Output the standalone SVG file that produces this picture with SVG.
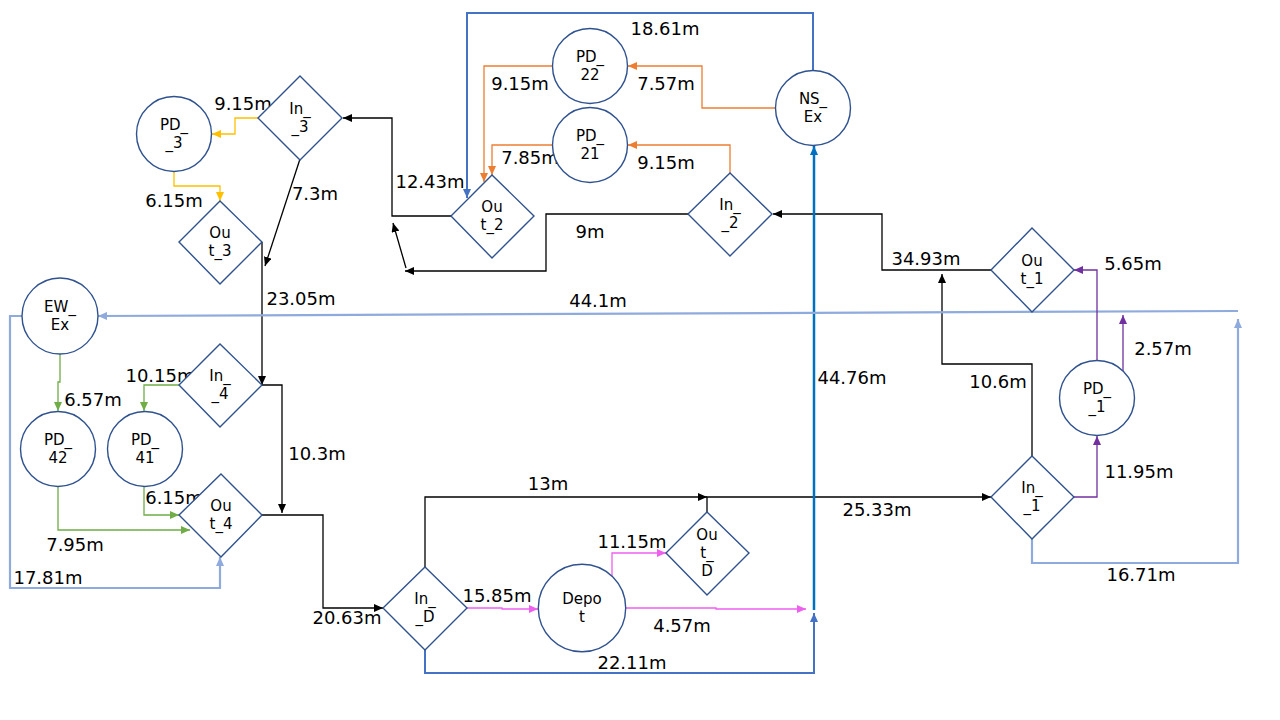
<svg xmlns="http://www.w3.org/2000/svg" width="1280" height="720" viewBox="0 0 1280 720">
<style>
.n{fill:#fff;stroke:#2F528F;stroke-width:1.4}
.nt{font-family:"DejaVu Sans",sans-serif;font-size:15px;fill:#000;text-anchor:middle;dominant-baseline:central}
.l{font-family:"DejaVu Sans",sans-serif;font-size:18px;fill:#000;text-anchor:middle;dominant-baseline:central}
.c{fill:none;stroke-width:1.3}
.k{stroke:#000;marker-end:url(#ak)}
.y{stroke:#FFC000;marker-end:url(#ay)}
.o{stroke:#ED7D31;marker-end:url(#ao)}
.g{stroke:#70AD47;marker-end:url(#ag)}
.p{stroke:#7030A0;marker-end:url(#ap)}
.m{stroke:#EE5FEE;marker-end:url(#am)}
.b{stroke:#4472C4;stroke-width:2;marker-end:url(#ab)}
.bb{stroke:#0070C0;stroke-width:2.5;marker-end:url(#abb)}
.lb{stroke:#8FAADC;stroke-width:2.2;marker-end:url(#alb)}
</style>
<defs>
<marker id="ak" markerUnits="userSpaceOnUse" markerWidth="10" markerHeight="8" refX="9" refY="4" orient="auto"><path d="M0,0 L9,4 L0,8 z" fill="#000"/></marker>
<marker id="ay" markerUnits="userSpaceOnUse" markerWidth="10" markerHeight="8" refX="9" refY="4" orient="auto"><path d="M0,0 L9,4 L0,8 z" fill="#FFC000"/></marker>
<marker id="ao" markerUnits="userSpaceOnUse" markerWidth="10" markerHeight="8" refX="9" refY="4" orient="auto"><path d="M0,0 L9,4 L0,8 z" fill="#ED7D31"/></marker>
<marker id="ag" markerUnits="userSpaceOnUse" markerWidth="10" markerHeight="8" refX="9" refY="4" orient="auto"><path d="M0,0 L9,4 L0,8 z" fill="#70AD47"/></marker>
<marker id="ap" markerUnits="userSpaceOnUse" markerWidth="10" markerHeight="8" refX="9" refY="4" orient="auto"><path d="M0,0 L9,4 L0,8 z" fill="#7030A0"/></marker>
<marker id="am" markerUnits="userSpaceOnUse" markerWidth="10" markerHeight="8" refX="9" refY="4" orient="auto"><path d="M0,0 L9,4 L0,8 z" fill="#EE5FEE"/></marker>
<marker id="ab" markerUnits="userSpaceOnUse" markerWidth="10" markerHeight="8" refX="9" refY="4" orient="auto"><path d="M0,0 L9,4 L0,8 z" fill="#4472C4"/></marker>
<marker id="abb" markerUnits="userSpaceOnUse" markerWidth="10" markerHeight="8" refX="9" refY="4" orient="auto"><path d="M0,0 L9,4 L0,8 z" fill="#0070C0"/></marker>
<marker id="alb" markerUnits="userSpaceOnUse" markerWidth="10" markerHeight="8" refX="9" refY="4" orient="auto"><path d="M0,0 L9,4 L0,8 z" fill="#8FAADC"/></marker>
</defs>
<rect width="1280" height="720" fill="#fff"/>
<g id="connectors">
<!-- black -->
<path class="c k" d="M451,216 L392,216 L392,118 L343,118"/>
<path class="c k" d="M688,214 L546,214 L546,271 L405,271"/>
<path class="c k" d="M406,268 L393,223"/>
<path class="c k" d="M991,270 L882,270 L882,214 L773,214"/>
<path class="c k" d="M1032,456 L1032,364 L942,364 L942,274"/>
<path class="c k" d="M300,159 L265,266"/>
<path class="c k" d="M262,242 L262,385"/>
<path class="c k" d="M262,385 L282,385 L282,513"/>
<path class="c k" d="M262,515 L323,515 L323,608 L383,608"/>
<path class="c k" d="M425,567 L425,497 L707,497"/>
<path class="c k" d="M707,512 L707,497 L991,497"/>
<!-- blue -->
<path class="c b" d="M813,70 L813,13 L467,13 L467,198"/>
<path class="c b" d="M425,649 L425,673 L814,673 L814,613"/>
<path class="c bb" d="M814,610 L814,146"/>
<!-- light blue -->
<path class="c lb" d="M1238,311 L98,316"/>
<path class="c lb" d="M1032,539 L1032,563 L1238,563 L1238,319"/>
<path class="c lb" d="M22,316 L10,316 L10,588 L220,588 L220,557"/>
<!-- green -->
<path class="c g" d="M60,354 L60,382 L58,382 L58,411"/>
<path class="c g" d="M179,385 L144,385 L144,411"/>
<path class="c g" d="M144,487 L144,515 L179,515"/>
<path class="c g" d="M58,487 L58,530 L190,530"/>
<!-- yellow -->
<path class="c y" d="M259,118 L235,118 L235,134 L212,134"/>
<path class="c y" d="M174,172 L174,186 L220,186 L220,201"/>
<!-- orange -->
<path class="c o" d="M775,108 L702,108 L702,66 L628,66"/>
<path class="c o" d="M552,66 L484,66 L484,182"/>
<path class="c o" d="M730,173 L730,145 L628,145"/>
<path class="c o" d="M552,145 L492,145 L492,175"/>
<!-- purple -->
<path class="c p" d="M1074,497 L1097,497 L1097,436"/>
<path class="c p" d="M1097,360 L1097,270 L1074,270"/>
<path class="c p" d="M1123,371 L1123,315"/>
<!-- magenta -->
<path class="c m" d="M467,608 L502,608 L502,609 L538,609"/>
<path class="c m" d="M612,577 L612,553 L666,553"/>
<path class="c m" d="M626,608 L716,608 L716,609 L806,609"/>
</g>
<g id="labels">
<text class="l" x="665" y="28">18.61m</text>
<text class="l" x="520" y="83">9.15m</text>
<text class="l" x="666" y="83">7.57m</text>
<text class="l" x="530" y="157">7.85m</text>
<text class="l" x="666" y="162">9.15m</text>
<text class="l" x="430" y="181">12.43m</text>
<text class="l" x="590" y="231">9m</text>
<text class="l" x="243" y="103">9.15m</text>
<text class="l" x="315" y="193">7.3m</text>
<text class="l" x="174" y="200">6.15m</text>
<text class="l" x="301" y="298">23.05m</text>
<text class="l" x="598" y="300">44.1m</text>
<text class="l" x="926" y="258">34.93m</text>
<text class="l" x="1133" y="263">5.65m</text>
<text class="l" x="1163" y="348">2.57m</text>
<text class="l" x="998" y="381">10.6m</text>
<text class="l" x="852" y="377">44.76m</text>
<text class="l" x="160" y="375">10.15m</text>
<text class="l" x="93" y="399">6.57m</text>
<text class="l" x="317" y="453">10.3m</text>
<text class="l" x="174" y="497">6.15m</text>
<text class="l" x="75" y="544">7.95m</text>
<text class="l" x="48" y="577">17.81m</text>
<text class="l" x="347" y="617">20.63m</text>
<text class="l" x="548" y="483">13m</text>
<text class="l" x="877" y="509">25.33m</text>
<text class="l" x="1139" y="471">11.95m</text>
<text class="l" x="1141" y="574">16.71m</text>
<text class="l" x="632" y="541">11.15m</text>
<text class="l" x="497" y="595">15.85m</text>
<text class="l" x="682" y="625">4.57m</text>
<text class="l" x="632" y="662">22.11m</text>
</g>
<g id="PD_3"><circle class="n" cx="174" cy="134" r="37.5"/><text class="nt" x="174" y="125">PD_</text><text class="nt" x="174" y="143">_3</text></g>
<g id="In_3"><path class="n" d="M300,76 L342,118 L300,160 L258,118 z"/><text class="nt" x="300" y="109">In_</text><text class="nt" x="300" y="127">_3</text></g>
<g id="Out_3"><path class="n" d="M220,201 L262,242 L220,284 L179,242 z"/><text class="nt" x="220" y="233">Ou</text><text class="nt" x="220" y="251">t_3</text></g>
<g id="EW_Ex"><circle class="n" cx="60" cy="316" r="38"/><text class="nt" x="60" y="307">EW_</text><text class="nt" x="60" y="325">Ex</text></g>
<g id="PD_42"><circle class="n" cx="58" cy="449" r="37.5"/><text class="nt" x="58" y="440">PD_</text><text class="nt" x="58" y="458">42</text></g>
<g id="PD_41"><circle class="n" cx="145" cy="449" r="37.5"/><text class="nt" x="145" y="440">PD_</text><text class="nt" x="145" y="458">41</text></g>
<g id="In_4"><path class="n" d="M220,344 L262,385 L220,427 L179,385 z"/><text class="nt" x="220" y="376">In_</text><text class="nt" x="220" y="394">_4</text></g>
<g id="Out_4"><path class="n" d="M221,474 L262,515 L221,557 L179,515 z"/><text class="nt" x="221" y="506">Ou</text><text class="nt" x="221" y="524">t_4</text></g>
<g id="Out_2"><path class="n" d="M492,175 L534,216 L492,258 L451,216 z"/><text class="nt" x="492" y="207">Ou</text><text class="nt" x="492" y="225">t_2</text></g>
<g id="PD_22"><circle class="n" cx="590" cy="66" r="37.5"/><text class="nt" x="590" y="57">PD_</text><text class="nt" x="590" y="75">22</text></g>
<g id="PD_21"><circle class="n" cx="590" cy="145" r="37.5"/><text class="nt" x="590" y="136">PD_</text><text class="nt" x="590" y="154">21</text></g>
<g id="NS_Ex"><circle class="n" cx="813" cy="108" r="37.5"/><text class="nt" x="813" y="99">NS_</text><text class="nt" x="813" y="117">Ex</text></g>
<g id="In_2"><path class="n" d="M730,173 L772,214 L730,256 L688,214 z"/><text class="nt" x="730" y="205">In_</text><text class="nt" x="730" y="223">_2</text></g>
<g id="Out_1"><path class="n" d="M1032,228 L1074,270 L1032,312 L991,270 z"/><text class="nt" x="1032" y="261">Ou</text><text class="nt" x="1032" y="279">t_1</text></g>
<g id="PD_1"><circle class="n" cx="1097" cy="398" r="37.5"/><text class="nt" x="1097" y="389">PD_</text><text class="nt" x="1097" y="407">_1</text></g>
<g id="In_1"><path class="n" d="M1032,456 L1074,497 L1032,539 L991,497 z"/><text class="nt" x="1032" y="488">In_</text><text class="nt" x="1032" y="506">_1</text></g>
<g id="In_D"><path class="n" d="M425,567 L467,608 L425,650 L383,608 z"/><text class="nt" x="425" y="599">In_</text><text class="nt" x="425" y="617">_D</text></g>
<g id="Depot"><circle class="n" cx="582" cy="608" r="43.7"/><text class="nt" x="582" y="599">Depo</text><text class="nt" x="582" y="617">t</text></g>
<g id="Out_D"><path class="n" d="M707,512 L749,553 L707,595 L666,553 z"/><text class="nt" x="707" y="535">Ou</text><text class="nt" x="707" y="553">t_</text><text class="nt" x="707" y="571">D</text></g>
</svg>
